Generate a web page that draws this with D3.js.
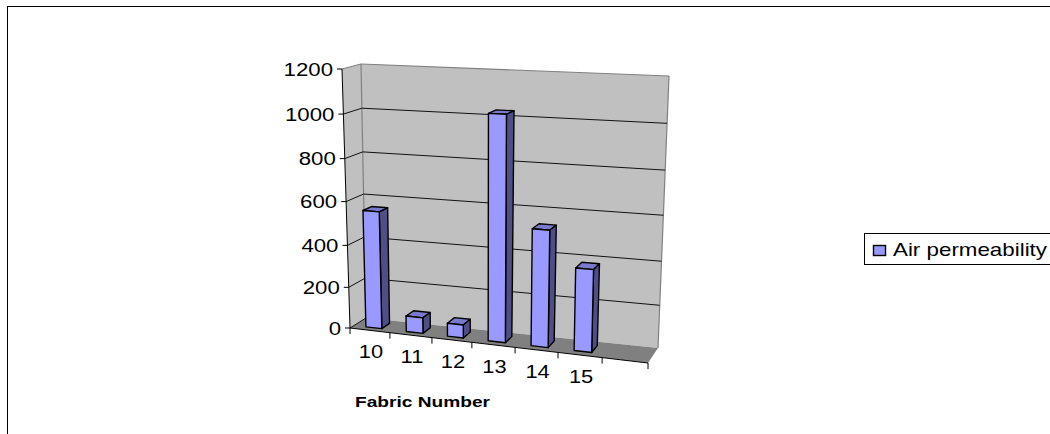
<!DOCTYPE html>
<html><head><meta charset="utf-8">
<script src="https://cdnjs.cloudflare.com/ajax/libs/d3/7.8.5/d3.min.js"></script>
<style>html,body{margin:0;padding:0;background:#fff}svg{display:block}text{font-family:"Liberation Sans",Arial,sans-serif;fill:#000}</style>
</head><body><svg id="c" width="1050" height="434"></svg>
<script>
const categories = ["10","11","12","13","14","15"];
const values = [555, 75, 62, 1030, 535, 380];
const yTicks = [0,200,400,600,800,1000,1200];
const seriesName = "Air permeability";
const xTitle = "Fabric Number";

const svg = d3.select("#c");
// 3D box: u = category position, d = depth (0 front, 1 back), v = value
const uScale = d3.scaleLinear().domain(d3.range(0,8)).range([0,.134,.275,.409,.554,.698,.846,1]);
const vScale = d3.scaleLinear().domain(yTicks).range([0,.157,.319,.488,.654,.826,1]);
const c = {fb0:[350,328],ft0:[342,69],bb0:[366,318],bt0:[361,64],
           fb1:[648,363],ft1:[657,83],bb1:[658,348],bt1:[669,76]};
const lerp = (a,b,t)=>[a[0]+(b[0]-a[0])*t,a[1]+(b[1]-a[1])*t];
function P(cat,depth,val){
  const u=uScale(cat),v=vScale(val);
  const f=lerp(lerp(c.fb0,c.fb1,u),lerp(c.ft0,c.ft1,u),v);
  const b=lerp(lerp(c.bb0,c.bb1,u),lerp(c.bt0,c.bt1,u),v);
  return lerp(f,b,depth);
}
const line=d3.line();
const poly=(pts,fill,stroke,sw)=>svg.append("path").attr("d",line(pts)+"Z").attr("fill",fill).attr("stroke",stroke||"none").attr("stroke-width",sw||0).attr("stroke-linejoin","round");
const seg=(a,b,stroke,sw)=>svg.append("path").attr("d",line([a,b])).attr("fill","none").attr("stroke",stroke).attr("stroke-width",sw);

// outer frame
seg([7.5,434],[7.5,6.5],"#000",1); seg([7,6.5],[1050,6.5],"#000",1);

// walls and floor
poly([P(0,0,0),P(0,1,0),P(0,1,1200),P(0,0,1200)],"#c0c0c0");
poly([P(0,1,0),P(7,1,0),P(7,1,1200),P(0,1,1200)],"#c0c0c0");
poly([P(0,0,0),P(7,0,0),P(7,1,0),P(0,1,0)],"#808080");
seg(P(0,1,0),P(0,1,1200),"#808080",1.2);
seg(P(0,1,1200),P(7,1,1200),"#808080",1.2);
seg(P(7,1,1200),P(7,1,0),"#808080",1.2);
seg(P(0,0,1200),P(0,1,1200),"#808080",1.2);

// gridlines
yTicks.filter(t=>t>0&&t<1200).forEach(t=>{
  seg(P(0,0,t),P(0,1,t),"#111",1);
  seg(P(0,1,t),P(7,1,t),"#111",1);
});
seg(P(0,0,0),P(0,1,0),"#111",1);

// axes
seg(P(0,0,0),P(0,0,1200),"#000",1);
seg(P(0,0,0),P(7,0,0),"#000",1);
yTicks.forEach(t=>{
  const p=P(0,0,t);
  seg([p[0]-5,p[1]],p,"#000",1);
  svg.append("text").attr("text-anchor","end").attr("font-size",19)
    .attr("transform",`translate(${p[0]-9},${p[1]+6.5}) scale(1.17,1)`).text(t);
});
d3.range(0,8).forEach(i=>{const p=P(i,0,0); seg(p,[p[0],p[1]+6],"#000",1);});
categories.forEach((k,i)=>{
  const p=P(i+0.5,0,0);
  svg.append("text").attr("text-anchor","middle").attr("font-size",19)
    .attr("transform",`translate(${p[0]+1},${p[1]+28}) scale(1.15,1)`).text(k);
});
svg.append("text").attr("font-size",14.5).attr("font-weight","bold")
  .attr("x",355).attr("y",407).attr("textLength",135).attr("lengthAdjust","spacingAndGlyphs").text(xTitle);

// bars
const u0=0.3,u1=0.7,d0=0.25,d1=0.75;
categories.forEach((k,i)=>{
  const a=i+u0,b=i+u1,val=values[i];
  poly([P(a,d0,val),P(b,d0,val),P(b,d1,val),P(a,d1,val)],"#7a7acc","#000",1.4);
  poly([P(b,d0,0),P(b,d1,0),P(b,d1,val),P(b,d0,val)],"#4f4f85","#000",1.4);
  poly([P(a,d0,0),P(b,d0,0),P(b,d0,val),P(a,d0,val)],"#9999ff","#000",1.4);
});

// legend
svg.append("rect").attr("x",864.5).attr("y",233.5).attr("width",190).attr("height",31).attr("fill","#fff").attr("stroke","#000");
svg.append("rect").attr("x",873.5).attr("y",245.5).attr("width",12).attr("height",10).attr("fill","#9999ff").attr("stroke","#000").attr("stroke-width",1.4);
svg.append("text").attr("x",893).attr("y",255.5).attr("font-size",19).attr("textLength",154).attr("lengthAdjust","spacingAndGlyphs").text(seriesName);
</script></body></html>
